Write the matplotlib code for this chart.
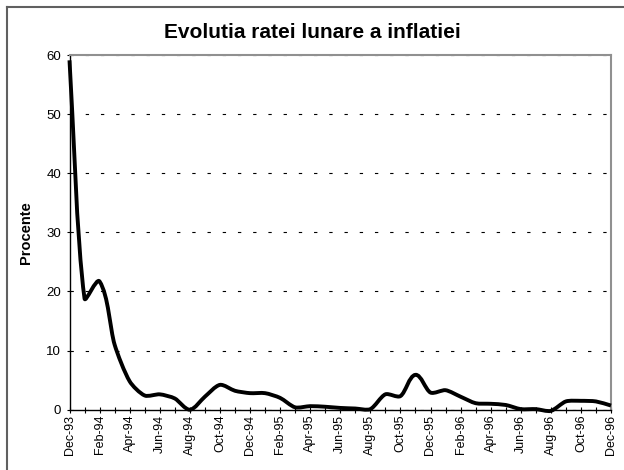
import matplotlib.pyplot as plt
import numpy as np
from matplotlib.path import Path
from matplotlib.patches import PathPatch
from matplotlib.lines import Line2D

plt.rcParams['font.family'] = ['Liberation Sans', 'DejaVu Sans']

# monthly labels, Dec-93 .. Dec-96
months = ["Dec-93", "Jan-94", "Feb-94", "Mar-94", "Apr-94", "May-94", "Jun-94",
          "Jul-94", "Aug-94", "Sep-94", "Oct-94", "Nov-94", "Dec-94",
          "Jan-95", "Feb-95", "Mar-95", "Apr-95", "May-95", "Jun-95",
          "Jul-95", "Aug-95", "Sep-95", "Oct-95", "Nov-95", "Dec-95",
          "Jan-96", "Feb-96", "Mar-96", "Apr-96", "May-96", "Jun-96",
          "Jul-96", "Aug-96", "Sep-96", "Oct-96", "Nov-96", "Dec-96"]

# monthly inflation rate (%)
inflatie = [59.1, 18.8, 21.7, 11.0, 4.8, 2.4, 2.6,
            1.9, 0.0, 2.2, 4.2, 3.2, 2.8,
            2.8, 2.0, 0.4, 0.6, 0.5, 0.3,
            0.2, 0.1, 2.6, 2.3, 5.9, 2.9,
            3.3, 2.2, 1.1, 1.0, 0.8, 0.1,
            0.1, -0.2, 1.4, 1.5, 1.4, 0.7]

y_ticks = [0, 10, 20, 30, 40, 50, 60]


def smooth_path(xs, ys, sx, sy, t=0.25):
    # Excel-like smoothed line: bezier through every point, tangents
    # scaled by segment length in screen units (sx, sy = px per unit)
    pts = np.column_stack([np.asarray(xs) * sx, np.asarray(ys) * sy])
    n = len(pts)

    def direction(i):
        a = pts[max(i - 1, 0)]
        b = pts[min(i + 1, n - 1)]
        d = b - a
        return d / np.hypot(*d)

    verts = [pts[0]]
    codes = [Path.MOVETO]
    for i in range(n - 1):
        p1, p2 = pts[i], pts[i + 1]
        seg = np.hypot(*(p2 - p1))
        c1 = p1 + direction(i) * seg * t
        c2 = p2 - direction(i + 1) * seg * t
        verts += [c1, c2, p2]
        codes += [Path.CURVE4] * 3
    verts = np.array(verts) / [sx, sy]
    return Path(verts, codes)


fig = plt.figure(figsize=(6.24, 4.70), dpi=100)
ax = fig.add_axes([69.5 / 624, 60.3 / 470, 541.5 / 624, 354.7 / 470])

x = np.arange(len(months))
px_x = 541.5 / (len(months) - 1)
px_y = 354.7 / 60
patch = PathPatch(smooth_path(x, inflatie, px_x, px_y), facecolor='none', edgecolor='black',
                  lw=2.8, joinstyle='round', capstyle='butt', clip_on=False, zorder=5)
ax.add_patch(patch)

ax.set_xlim(0, len(months) - 1)
ax.set_ylim(0, 60)

# ticks
ax.set_xticks(x)
ax.set_xticklabels([m if i % 2 == 0 else "" for i, m in enumerate(months)],
                   rotation=90, fontsize=9)
ax.tick_params(axis='x', direction='inout', length=5, width=0.8, pad=1)
ax.set_yticks(y_ticks)
ax.set_yticklabels([str(v) for v in y_ticks], fontsize=9.5)
ax.tick_params(axis='y', direction='out', length=2.5, width=0.8, pad=3.5)

# dashed gridlines
ax.yaxis.grid(True, color='black', lw=0.8, linestyle=(0, (3, 10.7)))
ax.set_axisbelow(True)

for s in ['left', 'bottom']:
    ax.spines[s].set_color('black')
    ax.spines[s].set_linewidth(1.0)
for s in ['top', 'right']:
    ax.spines[s].set_color('#909090')
    ax.spines[s].set_linewidth(1.5)

ax.set_ylabel("Procente", fontsize=10.5, fontweight='bold')
ax.yaxis.set_label_coords(-0.067, 0.5)

fig.text(0.5, 1 - 33 / 470, "Evolutia ratei lunare a inflatiei",
         fontsize=15, fontweight='bold', ha='center', va='center')

# chart frame (top and left edges visible)
fig.add_artist(Line2D([7 / 624, 7 / 624], [0, 1 - 6.5 / 470], transform=fig.transFigure,
                      color='#606060', lw=1.5))
fig.add_artist(Line2D([7 / 624, 1], [1 - 6.5 / 470, 1 - 6.5 / 470], transform=fig.transFigure,
                      color='#606060', lw=1.5))

fig.savefig("out.png", dpi=100)
